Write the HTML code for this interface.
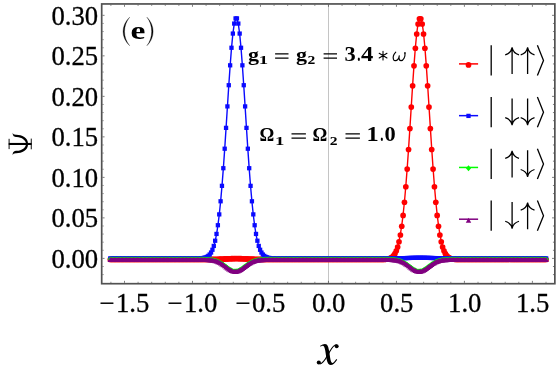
<!DOCTYPE html><html><head><meta charset="utf-8"><title>plot</title><style>html,body{margin:0;padding:0;background:#fff}svg{display:block}text{font-family:"Liberation Serif",serif;fill:#000}</style></head><body>
<svg width="556" height="377" viewBox="0 0 556 377">
<rect width="556" height="377" fill="#fff"/>
<defs>
<marker id="mr" markerWidth="8" markerHeight="8" refX="4" refY="4" markerUnits="userSpaceOnUse" overflow="visible"><circle cx="4" cy="4.75" r="2.85" fill="#ff0000"/></marker>
<marker id="mb" markerWidth="8" markerHeight="8" refX="4" refY="4" markerUnits="userSpaceOnUse" overflow="visible"><rect x="1.85" y="1.5" width="4.3" height="4.25" fill="#0a0aff"/></marker>
<marker id="mg" markerWidth="8" markerHeight="10" refX="4" refY="4" markerUnits="userSpaceOnUse" overflow="visible"><path d="M4 1.8L6.6 4.4L4 7.0L1.4 4.4Z" fill="#00ff00"/></marker>
<marker id="mp" markerWidth="8" markerHeight="10" refX="4" refY="4" markerUnits="userSpaceOnUse" overflow="visible"><path d="M4 2.3L6.75 7.2L1.25 7.2Z" fill="#800080"/></marker>
</defs>
<line x1="328.5" y1="3.95" x2="328.5" y2="283.7" stroke="#c4c4c4" stroke-width="1"/>
<polyline points="110.28,258.75 111.64,258.75 113.00,258.75 114.37,258.75 115.73,258.75 117.09,258.75 118.45,258.75 119.81,258.75 121.18,258.75 122.54,258.75 123.90,258.75 125.26,258.75 126.62,258.75 127.99,258.75 129.35,258.75 130.71,258.75 132.07,258.75 133.43,258.75 134.80,258.75 136.16,258.75 137.52,258.75 138.88,258.75 140.24,258.75 141.61,258.75 142.97,258.75 144.33,258.75 145.69,258.75 147.05,258.75 148.42,258.75 149.78,258.75 151.14,258.75 152.50,258.75 153.86,258.75 155.23,258.75 156.59,258.75 157.95,258.75 159.31,258.75 160.67,258.75 162.04,258.75 163.40,258.75 164.76,258.75 166.12,258.75 167.48,258.75 168.85,258.75 170.21,258.75 171.57,258.75 172.93,258.75 174.29,258.75 175.66,258.75 177.02,258.75 178.38,258.75 179.74,258.75 181.10,258.75 182.47,258.75 183.83,258.75 185.19,258.75 186.55,258.75 187.91,258.75 189.28,258.75 190.64,258.75 192.00,258.75 193.36,258.75 194.72,258.75 196.09,258.75 197.45,258.75 198.81,258.75 200.17,258.74 201.53,258.74 202.90,258.74 204.26,258.73 205.62,258.72 206.98,258.71 208.34,258.70 209.71,258.69 211.07,258.67 212.43,258.64 213.79,258.61 215.15,258.58 216.52,258.54 217.88,258.50 219.24,258.45 220.60,258.39 221.96,258.33 223.33,258.27 224.69,258.21 226.05,258.15 227.41,258.08 228.77,258.03 230.14,257.98 231.50,257.93 232.86,257.90 234.22,257.87 235.58,257.86 236.95,257.86 238.31,257.87 239.67,257.90 241.03,257.93 242.39,257.98 243.76,258.03 245.12,258.08 246.48,258.15 247.84,258.21 249.20,258.27 250.57,258.33 251.93,258.39 253.29,258.45 254.65,258.50 256.01,258.54 257.38,258.58 258.74,258.61 260.10,258.64 261.46,258.67 262.82,258.69 264.19,258.70 265.55,258.71 266.91,258.72 268.27,258.73 269.63,258.74 271.00,258.74 272.36,258.74 273.72,258.75 275.08,258.75 276.44,258.75 277.81,258.75 279.17,258.75 280.53,258.75 281.89,258.75 283.25,258.75 284.62,258.75 285.98,258.75 287.34,258.75 288.70,258.75 290.06,258.75 291.43,258.75 292.79,258.75 294.15,258.75 295.51,258.75 296.87,258.75 298.24,258.75 299.60,258.75 300.96,258.75 302.32,258.75 303.68,258.75 305.05,258.75 306.41,258.75 307.77,258.75 309.13,258.75 310.49,258.75 311.86,258.75 313.22,258.75 314.58,258.75 315.94,258.75 317.30,258.75 318.67,258.75 320.03,258.75 321.39,258.75 322.75,258.75 324.11,258.75 325.48,258.75 326.84,258.75 328.20,258.75 329.56,258.75 330.92,258.75 332.29,258.75 333.65,258.75 335.01,258.75 336.37,258.75 337.73,258.75 339.10,258.75 340.46,258.75 341.82,258.75 343.18,258.75 344.54,258.75 345.91,258.75 347.27,258.75 348.63,258.75 349.99,258.75 351.35,258.75 352.72,258.75 354.08,258.75 355.44,258.75 356.80,258.75 358.16,258.75 359.53,258.75 360.89,258.75 362.25,258.75 363.61,258.75 364.97,258.75 366.34,258.75 367.70,258.75 369.06,258.75 370.42,258.75 371.78,258.75 373.15,258.75 374.51,258.75 375.87,258.75 377.23,258.75 378.59,258.74 379.96,258.73 381.32,258.71 382.68,258.69 384.04,258.63 385.40,258.55 386.77,258.40 388.13,258.16 389.49,257.77 390.85,257.17 392.21,256.25 393.58,254.89 394.94,252.92 396.30,250.12 397.66,246.26 399.02,241.06 400.39,234.23 401.75,225.50 403.11,214.64 404.47,201.48 405.83,186.00 407.20,168.32 408.56,148.76 409.92,127.85 411.28,106.32 412.64,85.06 414.01,65.11 415.37,47.50 416.73,33.25 418.09,23.23 419.45,18.05 420.82,18.05 422.18,23.23 423.54,33.25 424.90,47.50 426.26,65.11 427.63,85.06 428.99,106.32 430.35,127.85 431.71,148.76 433.07,168.32 434.44,186.00 435.80,201.48 437.16,214.64 438.52,225.50 439.88,234.23 441.25,241.06 442.61,246.26 443.97,250.12 445.33,252.92 446.69,254.89 448.06,256.25 449.42,257.17 450.78,257.77 452.14,258.16 453.50,258.40 454.87,258.55 456.23,258.63 457.59,258.69 458.95,258.71 460.31,258.73 461.68,258.74 463.04,258.75 464.40,258.75 465.76,258.75 467.12,258.75 468.49,258.75 469.85,258.75 471.21,258.75 472.57,258.75 473.93,258.75 475.30,258.75 476.66,258.75 478.02,258.75 479.38,258.75 480.74,258.75 482.11,258.75 483.47,258.75 484.83,258.75 486.19,258.75 487.55,258.75 488.92,258.75 490.28,258.75 491.64,258.75 493.00,258.75 494.36,258.75 495.73,258.75 497.09,258.75 498.45,258.75 499.81,258.75 501.17,258.75 502.54,258.75 503.90,258.75 505.26,258.75 506.62,258.75 507.98,258.75 509.35,258.75 510.71,258.75 512.07,258.75 513.43,258.75 514.79,258.75 516.16,258.75 517.52,258.75 518.88,258.75 520.24,258.75 521.60,258.75 522.97,258.75 524.33,258.75 525.69,258.75 527.05,258.75 528.41,258.75 529.78,258.75 531.14,258.75 532.50,258.75 533.86,258.75 535.22,258.75 536.59,258.75 537.95,258.75 539.31,258.75 540.67,258.75 542.03,258.75 543.40,258.75 544.76,258.75 546.12,258.75" fill="none" stroke="#ff0000" stroke-width="1.4" stroke-linejoin="round" marker-start="url(#mr)" marker-mid="url(#mr)" marker-end="url(#mr)"/>
<polyline points="110.28,258.75 111.64,258.75 113.00,258.75 114.37,258.75 115.73,258.75 117.09,258.75 118.45,258.75 119.81,258.75 121.18,258.75 122.54,258.75 123.90,258.75 125.26,258.75 126.62,258.75 127.99,258.75 129.35,258.75 130.71,258.75 132.07,258.75 133.43,258.75 134.80,258.75 136.16,258.75 137.52,258.75 138.88,258.75 140.24,258.75 141.61,258.75 142.97,258.75 144.33,258.75 145.69,258.75 147.05,258.75 148.42,258.75 149.78,258.75 151.14,258.75 152.50,258.75 153.86,258.75 155.23,258.75 156.59,258.75 157.95,258.75 159.31,258.75 160.67,258.75 162.04,258.75 163.40,258.75 164.76,258.75 166.12,258.75 167.48,258.75 168.85,258.75 170.21,258.75 171.57,258.75 172.93,258.75 174.29,258.75 175.66,258.75 177.02,258.75 178.38,258.75 179.74,258.75 181.10,258.75 182.47,258.75 183.83,258.75 185.19,258.75 186.55,258.75 187.91,258.75 189.28,258.75 190.64,258.75 192.00,258.75 193.36,258.75 194.72,258.74 196.09,258.73 197.45,258.71 198.81,258.69 200.17,258.63 201.53,258.55 202.90,258.40 204.26,258.16 205.62,257.77 206.98,257.17 208.34,256.26 209.71,254.90 211.07,252.93 212.43,250.15 213.79,246.30 215.15,241.11 216.52,234.31 217.88,225.60 219.24,214.77 220.60,201.65 221.96,186.22 223.33,168.59 224.69,149.09 226.05,128.24 227.41,106.78 228.77,85.59 230.14,65.69 231.50,48.14 232.86,33.94 234.22,23.94 235.58,18.77 236.95,18.77 238.31,23.94 239.67,33.94 241.03,48.14 242.39,65.69 243.76,85.59 245.12,106.78 246.48,128.24 247.84,149.09 249.20,168.59 250.57,186.22 251.93,201.65 253.29,214.77 254.65,225.60 256.01,234.31 257.38,241.11 258.74,246.30 260.10,250.15 261.46,252.93 262.82,254.90 264.19,256.26 265.55,257.17 266.91,257.77 268.27,258.16 269.63,258.40 271.00,258.55 272.36,258.63 273.72,258.69 275.08,258.71 276.44,258.73 277.81,258.74 279.17,258.75 280.53,258.75 281.89,258.75 283.25,258.75 284.62,258.75 285.98,258.75 287.34,258.75 288.70,258.75 290.06,258.75 291.43,258.75 292.79,258.75 294.15,258.75 295.51,258.75 296.87,258.75 298.24,258.75 299.60,258.75 300.96,258.75 302.32,258.75 303.68,258.75 305.05,258.75 306.41,258.75 307.77,258.75 309.13,258.75 310.49,258.75 311.86,258.75 313.22,258.75 314.58,258.75 315.94,258.75 317.30,258.75 318.67,258.75 320.03,258.75 321.39,258.75 322.75,258.75 324.11,258.75 325.48,258.75 326.84,258.75 328.20,258.75 329.56,258.75 330.92,258.75 332.29,258.75 333.65,258.75 335.01,258.75 336.37,258.75 337.73,258.75 339.10,258.75 340.46,258.75 341.82,258.75 343.18,258.75 344.54,258.75 345.91,258.75 347.27,258.75 348.63,258.75 349.99,258.75 351.35,258.75 352.72,258.75 354.08,258.75 355.44,258.75 356.80,258.75 358.16,258.75 359.53,258.75 360.89,258.75 362.25,258.75 363.61,258.75 364.97,258.75 366.34,258.75 367.70,258.75 369.06,258.75 370.42,258.75 371.78,258.75 373.15,258.75 374.51,258.75 375.87,258.75 377.23,258.75 378.59,258.75 379.96,258.75 381.32,258.75 382.68,258.75 384.04,258.74 385.40,258.74 386.77,258.74 388.13,258.74 389.49,258.73 390.85,258.72 392.21,258.71 393.58,258.70 394.94,258.69 396.30,258.67 397.66,258.65 399.02,258.63 400.39,258.60 401.75,258.57 403.11,258.53 404.47,258.49 405.83,258.45 407.20,258.40 408.56,258.36 409.92,258.31 411.28,258.27 412.64,258.22 414.01,258.19 415.37,258.15 416.73,258.13 418.09,258.11 419.45,258.10 420.82,258.10 422.18,258.11 423.54,258.13 424.90,258.15 426.26,258.19 427.63,258.22 428.99,258.27 430.35,258.31 431.71,258.36 433.07,258.40 434.44,258.45 435.80,258.49 437.16,258.53 438.52,258.57 439.88,258.60 441.25,258.63 442.61,258.65 443.97,258.67 445.33,258.69 446.69,258.70 448.06,258.71 449.42,258.72 450.78,258.73 452.14,258.74 453.50,258.74 454.87,258.74 456.23,258.74 457.59,258.75 458.95,258.75 460.31,258.75 461.68,258.75 463.04,258.75 464.40,258.75 465.76,258.75 467.12,258.75 468.49,258.75 469.85,258.75 471.21,258.75 472.57,258.75 473.93,258.75 475.30,258.75 476.66,258.75 478.02,258.75 479.38,258.75 480.74,258.75 482.11,258.75 483.47,258.75 484.83,258.75 486.19,258.75 487.55,258.75 488.92,258.75 490.28,258.75 491.64,258.75 493.00,258.75 494.36,258.75 495.73,258.75 497.09,258.75 498.45,258.75 499.81,258.75 501.17,258.75 502.54,258.75 503.90,258.75 505.26,258.75 506.62,258.75 507.98,258.75 509.35,258.75 510.71,258.75 512.07,258.75 513.43,258.75 514.79,258.75 516.16,258.75 517.52,258.75 518.88,258.75 520.24,258.75 521.60,258.75 522.97,258.75 524.33,258.75 525.69,258.75 527.05,258.75 528.41,258.75 529.78,258.75 531.14,258.75 532.50,258.75 533.86,258.75 535.22,258.75 536.59,258.75 537.95,258.75 539.31,258.75 540.67,258.75 542.03,258.75 543.40,258.75 544.76,258.75 546.12,258.75" fill="none" stroke="#0a0aff" stroke-width="1.4" stroke-linejoin="round" marker-start="url(#mb)" marker-mid="url(#mb)" marker-end="url(#mb)"/>
<polyline points="110.28,258.75 111.64,258.75 113.00,258.75 114.37,258.75 115.73,258.75 117.09,258.75 118.45,258.75 119.81,258.75 121.18,258.75 122.54,258.75 123.90,258.75 125.26,258.75 126.62,258.75 127.99,258.75 129.35,258.75 130.71,258.75 132.07,258.75 133.43,258.75 134.80,258.75 136.16,258.75 137.52,258.75 138.88,258.75 140.24,258.75 141.61,258.75 142.97,258.75 144.33,258.75 145.69,258.75 147.05,258.75 148.42,258.75 149.78,258.75 151.14,258.75 152.50,258.75 153.86,258.75 155.23,258.75 156.59,258.75 157.95,258.75 159.31,258.75 160.67,258.75 162.04,258.75 163.40,258.75 164.76,258.75 166.12,258.75 167.48,258.75 168.85,258.75 170.21,258.75 171.57,258.75 172.93,258.75 174.29,258.75 175.66,258.75 177.02,258.75 178.38,258.75 179.74,258.75 181.10,258.75 182.47,258.75 183.83,258.75 185.19,258.75 186.55,258.75 187.91,258.75 189.28,258.75 190.64,258.75 192.00,258.75 193.36,258.75 194.72,258.75 196.09,258.75 197.45,258.75 198.81,258.76 200.17,258.76 201.53,258.77 202.90,258.78 204.26,258.81 205.62,258.84 206.98,258.89 208.34,258.96 209.71,259.06 211.07,259.20 212.43,259.40 213.79,259.65 215.15,259.99 216.52,260.42 217.88,260.95 219.24,261.59 220.60,262.34 221.96,263.19 223.33,264.13 224.69,265.14 226.05,266.18 227.41,267.21 228.77,268.20 230.14,269.08 231.50,269.81 232.86,270.35 234.22,270.66 235.58,270.74 236.95,270.56 238.31,270.16 239.67,269.53 241.03,268.74 242.39,267.81 243.76,266.80 245.12,265.76 246.48,264.73 247.84,263.74 249.20,262.83 250.57,262.02 251.93,261.32 253.29,260.72 254.65,260.24 256.01,259.85 257.38,259.54 258.74,259.31 260.10,259.14 261.46,259.01 262.82,258.93 264.19,258.86 265.55,258.82 266.91,258.80 268.27,258.78 269.63,258.77 271.00,258.76 272.36,258.76 273.72,258.75 275.08,258.75 276.44,258.75 277.81,258.75 279.17,258.75 280.53,258.75 281.89,258.75 283.25,258.75 284.62,258.75 285.98,258.75 287.34,258.75 288.70,258.75 290.06,258.75 291.43,258.75 292.79,258.75 294.15,258.75 295.51,258.75 296.87,258.75 298.24,258.75 299.60,258.75 300.96,258.75 302.32,258.75 303.68,258.75 305.05,258.75 306.41,258.75 307.77,258.75 309.13,258.75 310.49,258.75 311.86,258.75 313.22,258.75 314.58,258.75 315.94,258.75 317.30,258.75 318.67,258.75 320.03,258.75 321.39,258.75 322.75,258.75 324.11,258.75 325.48,258.75 326.84,258.75 328.20,258.75 329.56,258.75 330.92,258.75 332.29,258.75 333.65,258.75 335.01,258.75 336.37,258.75 337.73,258.75 339.10,258.75 340.46,258.75 341.82,258.75 343.18,258.75 344.54,258.75 345.91,258.75 347.27,258.75 348.63,258.75 349.99,258.75 351.35,258.75 352.72,258.75 354.08,258.75 355.44,258.75 356.80,258.75 358.16,258.75 359.53,258.75 360.89,258.75 362.25,258.75 363.61,258.75 364.97,258.75 366.34,258.75 367.70,258.75 369.06,258.75 370.42,258.75 371.78,258.75 373.15,258.75 374.51,258.75 375.87,258.75 377.23,258.75 378.59,258.75 379.96,258.75 381.32,258.75 382.68,258.76 384.04,258.76 385.40,258.77 386.77,258.78 388.13,258.81 389.49,258.84 390.85,258.89 392.21,258.96 393.58,259.06 394.94,259.20 396.30,259.40 397.66,259.65 399.02,259.99 400.39,260.42 401.75,260.95 403.11,261.59 404.47,262.34 405.83,263.19 407.20,264.13 408.56,265.14 409.92,266.18 411.28,267.21 412.64,268.20 414.01,269.08 415.37,269.81 416.73,270.35 418.09,270.66 419.45,270.74 420.82,270.56 422.18,270.16 423.54,269.53 424.90,268.74 426.26,267.81 427.63,266.80 428.99,265.76 430.35,264.73 431.71,263.74 433.07,262.83 434.44,262.02 435.80,261.32 437.16,260.72 438.52,260.24 439.88,259.85 441.25,259.54 442.61,259.31 443.97,259.14 445.33,259.01 446.69,258.93 448.06,258.86 449.42,258.82 450.78,258.80 452.14,258.78 453.50,258.77 454.87,258.76 456.23,258.76 457.59,258.75 458.95,258.75 460.31,258.75 461.68,258.75 463.04,258.75 464.40,258.75 465.76,258.75 467.12,258.75 468.49,258.75 469.85,258.75 471.21,258.75 472.57,258.75 473.93,258.75 475.30,258.75 476.66,258.75 478.02,258.75 479.38,258.75 480.74,258.75 482.11,258.75 483.47,258.75 484.83,258.75 486.19,258.75 487.55,258.75 488.92,258.75 490.28,258.75 491.64,258.75 493.00,258.75 494.36,258.75 495.73,258.75 497.09,258.75 498.45,258.75 499.81,258.75 501.17,258.75 502.54,258.75 503.90,258.75 505.26,258.75 506.62,258.75 507.98,258.75 509.35,258.75 510.71,258.75 512.07,258.75 513.43,258.75 514.79,258.75 516.16,258.75 517.52,258.75 518.88,258.75 520.24,258.75 521.60,258.75 522.97,258.75 524.33,258.75 525.69,258.75 527.05,258.75 528.41,258.75 529.78,258.75 531.14,258.75 532.50,258.75 533.86,258.75 535.22,258.75 536.59,258.75 537.95,258.75 539.31,258.75 540.67,258.75 542.03,258.75 543.40,258.75 544.76,258.75 546.12,258.75" fill="none" stroke="#00ff00" stroke-width="1.4" stroke-linejoin="round" marker-start="url(#mg)" marker-mid="url(#mg)" marker-end="url(#mg)"/>
<polyline points="110.28,258.75 111.64,258.75 113.00,258.75 114.37,258.75 115.73,258.75 117.09,258.75 118.45,258.75 119.81,258.75 121.18,258.75 122.54,258.75 123.90,258.75 125.26,258.75 126.62,258.75 127.99,258.75 129.35,258.75 130.71,258.75 132.07,258.75 133.43,258.75 134.80,258.75 136.16,258.75 137.52,258.75 138.88,258.75 140.24,258.75 141.61,258.75 142.97,258.75 144.33,258.75 145.69,258.75 147.05,258.75 148.42,258.75 149.78,258.75 151.14,258.75 152.50,258.75 153.86,258.75 155.23,258.75 156.59,258.75 157.95,258.75 159.31,258.75 160.67,258.75 162.04,258.75 163.40,258.75 164.76,258.75 166.12,258.75 167.48,258.75 168.85,258.75 170.21,258.75 171.57,258.75 172.93,258.75 174.29,258.75 175.66,258.75 177.02,258.75 178.38,258.75 179.74,258.75 181.10,258.75 182.47,258.75 183.83,258.75 185.19,258.75 186.55,258.75 187.91,258.75 189.28,258.75 190.64,258.75 192.00,258.75 193.36,258.75 194.72,258.75 196.09,258.75 197.45,258.75 198.81,258.76 200.17,258.76 201.53,258.77 202.90,258.78 204.26,258.81 205.62,258.84 206.98,258.89 208.34,258.96 209.71,259.06 211.07,259.20 212.43,259.40 213.79,259.65 215.15,259.99 216.52,260.42 217.88,260.95 219.24,261.59 220.60,262.34 221.96,263.19 223.33,264.13 224.69,265.14 226.05,266.18 227.41,267.21 228.77,268.20 230.14,269.08 231.50,269.81 232.86,270.35 234.22,270.66 235.58,270.74 236.95,270.56 238.31,270.16 239.67,269.53 241.03,268.74 242.39,267.81 243.76,266.80 245.12,265.76 246.48,264.73 247.84,263.74 249.20,262.83 250.57,262.02 251.93,261.32 253.29,260.72 254.65,260.24 256.01,259.85 257.38,259.54 258.74,259.31 260.10,259.14 261.46,259.01 262.82,258.93 264.19,258.86 265.55,258.82 266.91,258.80 268.27,258.78 269.63,258.77 271.00,258.76 272.36,258.76 273.72,258.75 275.08,258.75 276.44,258.75 277.81,258.75 279.17,258.75 280.53,258.75 281.89,258.75 283.25,258.75 284.62,258.75 285.98,258.75 287.34,258.75 288.70,258.75 290.06,258.75 291.43,258.75 292.79,258.75 294.15,258.75 295.51,258.75 296.87,258.75 298.24,258.75 299.60,258.75 300.96,258.75 302.32,258.75 303.68,258.75 305.05,258.75 306.41,258.75 307.77,258.75 309.13,258.75 310.49,258.75 311.86,258.75 313.22,258.75 314.58,258.75 315.94,258.75 317.30,258.75 318.67,258.75 320.03,258.75 321.39,258.75 322.75,258.75 324.11,258.75 325.48,258.75 326.84,258.75 328.20,258.75 329.56,258.75 330.92,258.75 332.29,258.75 333.65,258.75 335.01,258.75 336.37,258.75 337.73,258.75 339.10,258.75 340.46,258.75 341.82,258.75 343.18,258.75 344.54,258.75 345.91,258.75 347.27,258.75 348.63,258.75 349.99,258.75 351.35,258.75 352.72,258.75 354.08,258.75 355.44,258.75 356.80,258.75 358.16,258.75 359.53,258.75 360.89,258.75 362.25,258.75 363.61,258.75 364.97,258.75 366.34,258.75 367.70,258.75 369.06,258.75 370.42,258.75 371.78,258.75 373.15,258.75 374.51,258.75 375.87,258.75 377.23,258.75 378.59,258.75 379.96,258.75 381.32,258.75 382.68,258.76 384.04,258.76 385.40,258.77 386.77,258.78 388.13,258.81 389.49,258.84 390.85,258.89 392.21,258.96 393.58,259.06 394.94,259.20 396.30,259.40 397.66,259.65 399.02,259.99 400.39,260.42 401.75,260.95 403.11,261.59 404.47,262.34 405.83,263.19 407.20,264.13 408.56,265.14 409.92,266.18 411.28,267.21 412.64,268.20 414.01,269.08 415.37,269.81 416.73,270.35 418.09,270.66 419.45,270.74 420.82,270.56 422.18,270.16 423.54,269.53 424.90,268.74 426.26,267.81 427.63,266.80 428.99,265.76 430.35,264.73 431.71,263.74 433.07,262.83 434.44,262.02 435.80,261.32 437.16,260.72 438.52,260.24 439.88,259.85 441.25,259.54 442.61,259.31 443.97,259.14 445.33,259.01 446.69,258.93 448.06,258.86 449.42,258.82 450.78,258.80 452.14,258.78 453.50,258.77 454.87,258.76 456.23,258.76 457.59,258.75 458.95,258.75 460.31,258.75 461.68,258.75 463.04,258.75 464.40,258.75 465.76,258.75 467.12,258.75 468.49,258.75 469.85,258.75 471.21,258.75 472.57,258.75 473.93,258.75 475.30,258.75 476.66,258.75 478.02,258.75 479.38,258.75 480.74,258.75 482.11,258.75 483.47,258.75 484.83,258.75 486.19,258.75 487.55,258.75 488.92,258.75 490.28,258.75 491.64,258.75 493.00,258.75 494.36,258.75 495.73,258.75 497.09,258.75 498.45,258.75 499.81,258.75 501.17,258.75 502.54,258.75 503.90,258.75 505.26,258.75 506.62,258.75 507.98,258.75 509.35,258.75 510.71,258.75 512.07,258.75 513.43,258.75 514.79,258.75 516.16,258.75 517.52,258.75 518.88,258.75 520.24,258.75 521.60,258.75 522.97,258.75 524.33,258.75 525.69,258.75 527.05,258.75 528.41,258.75 529.78,258.75 531.14,258.75 532.50,258.75 533.86,258.75 535.22,258.75 536.59,258.75 537.95,258.75 539.31,258.75 540.67,258.75 542.03,258.75 543.40,258.75 544.76,258.75 546.12,258.75" fill="none" stroke="#800080" stroke-width="1.4" stroke-linejoin="round" marker-start="url(#mp)" marker-mid="url(#mp)" marker-end="url(#mp)"/>
<rect x="101.7" y="3.95" width="453.15000000000003" height="279.75" fill="none" stroke="#525252" stroke-width="1.7"/>
<path d="M110.90 282.84999999999997v-1.05M110.90 4.8v1.05M124.50 282.84999999999997v-2.0M124.50 4.8v2.0M138.09 282.84999999999997v-1.05M138.09 4.8v1.05M151.69 282.84999999999997v-1.05M151.69 4.8v1.05M165.29 282.84999999999997v-1.05M165.29 4.8v1.05M178.88 282.84999999999997v-1.05M178.88 4.8v1.05M192.48 282.84999999999997v-2.0M192.48 4.8v2.0M206.08 282.84999999999997v-1.05M206.08 4.8v1.05M219.67 282.84999999999997v-1.05M219.67 4.8v1.05M233.27 282.84999999999997v-1.05M233.27 4.8v1.05M246.87 282.84999999999997v-1.05M246.87 4.8v1.05M260.46 282.84999999999997v-2.0M260.46 4.8v2.0M274.06 282.84999999999997v-1.05M274.06 4.8v1.05M287.66 282.84999999999997v-1.05M287.66 4.8v1.05M301.26 282.84999999999997v-1.05M301.26 4.8v1.05M314.85 282.84999999999997v-1.05M314.85 4.8v1.05M328.45 282.84999999999997v-2.0M328.45 4.8v2.0M342.05 282.84999999999997v-1.05M342.05 4.8v1.05M355.64 282.84999999999997v-1.05M355.64 4.8v1.05M369.24 282.84999999999997v-1.05M369.24 4.8v1.05M382.84 282.84999999999997v-1.05M382.84 4.8v1.05M396.44 282.84999999999997v-2.0M396.44 4.8v2.0M410.03 282.84999999999997v-1.05M410.03 4.8v1.05M423.63 282.84999999999997v-1.05M423.63 4.8v1.05M437.23 282.84999999999997v-1.05M437.23 4.8v1.05M450.82 282.84999999999997v-1.05M450.82 4.8v1.05M464.42 282.84999999999997v-2.0M464.42 4.8v2.0M478.02 282.84999999999997v-1.05M478.02 4.8v1.05M491.61 282.84999999999997v-1.05M491.61 4.8v1.05M505.21 282.84999999999997v-1.05M505.21 4.8v1.05M518.81 282.84999999999997v-1.05M518.81 4.8v1.05M532.40 282.84999999999997v-2.0M532.40 4.8v2.0M546.00 282.84999999999997v-1.05M546.00 4.8v1.05M102.55 274.60h1.05M554.0 274.60h-1.05M102.55 266.50h1.05M554.0 266.50h-1.05M102.55 258.40h2.0M554.0 258.40h-2.0M102.55 250.30h1.05M554.0 250.30h-1.05M102.55 242.20h1.05M554.0 242.20h-1.05M102.55 234.09h1.05M554.0 234.09h-1.05M102.55 225.99h1.05M554.0 225.99h-1.05M102.55 217.89h2.0M554.0 217.89h-2.0M102.55 209.79h1.05M554.0 209.79h-1.05M102.55 201.69h1.05M554.0 201.69h-1.05M102.55 193.58h1.05M554.0 193.58h-1.05M102.55 185.48h1.05M554.0 185.48h-1.05M102.55 177.38h2.0M554.0 177.38h-2.0M102.55 169.28h1.05M554.0 169.28h-1.05M102.55 161.18h1.05M554.0 161.18h-1.05M102.55 153.07h1.05M554.0 153.07h-1.05M102.55 144.97h1.05M554.0 144.97h-1.05M102.55 136.87h2.0M554.0 136.87h-2.0M102.55 128.77h1.05M554.0 128.77h-1.05M102.55 120.67h1.05M554.0 120.67h-1.05M102.55 112.56h1.05M554.0 112.56h-1.05M102.55 104.46h1.05M554.0 104.46h-1.05M102.55 96.36h2.0M554.0 96.36h-2.0M102.55 88.26h1.05M554.0 88.26h-1.05M102.55 80.16h1.05M554.0 80.16h-1.05M102.55 72.05h1.05M554.0 72.05h-1.05M102.55 63.95h1.05M554.0 63.95h-1.05M102.55 55.85h2.0M554.0 55.85h-2.0M102.55 47.75h1.05M554.0 47.75h-1.05M102.55 39.65h1.05M554.0 39.65h-1.05M102.55 31.54h1.05M554.0 31.54h-1.05M102.55 23.44h1.05M554.0 23.44h-1.05M102.55 15.34h2.0M554.0 15.34h-2.0" stroke="#3a3a3a" stroke-width="0.65" fill="none"/>
<g style="filter:grayscale(1)">
<text x="98.2" y="267.90" font-size="26.7" text-anchor="end" stroke="#000" stroke-width="0.3">0.00</text>
<text x="98.2" y="227.39" font-size="26.7" text-anchor="end" stroke="#000" stroke-width="0.3">0.05</text>
<text x="98.2" y="186.88" font-size="26.7" text-anchor="end" stroke="#000" stroke-width="0.3">0.10</text>
<text x="98.2" y="146.37" font-size="26.7" text-anchor="end" stroke="#000" stroke-width="0.3">0.15</text>
<text x="98.2" y="105.86" font-size="26.7" text-anchor="end" stroke="#000" stroke-width="0.3">0.20</text>
<text x="98.2" y="65.35" font-size="26.7" text-anchor="end" stroke="#000" stroke-width="0.3">0.25</text>
<text x="98.2" y="24.84" font-size="26.7" text-anchor="end" stroke="#000" stroke-width="0.3">0.30</text>
<text x="124.30" y="312" font-size="26.7" text-anchor="middle" stroke="#000" stroke-width="0.3">−<tspan dx="1.6">1.5</tspan></text>
<text x="192.28" y="312" font-size="26.7" text-anchor="middle" stroke="#000" stroke-width="0.3">−<tspan dx="1.6">1.0</tspan></text>
<text x="260.26" y="312" font-size="26.7" text-anchor="middle" stroke="#000" stroke-width="0.3">−<tspan dx="1.6">0.5</tspan></text>
<text x="328.75" y="312" font-size="26.7" text-anchor="middle" stroke="#000" stroke-width="0.3">0.0</text>
<text x="396.74" y="312" font-size="26.7" text-anchor="middle" stroke="#000" stroke-width="0.3">0.5</text>
<text x="464.72" y="312" font-size="26.7" text-anchor="middle" stroke="#000" stroke-width="0.3">1.0</text>
<text x="532.70" y="312" font-size="26.7" text-anchor="middle" stroke="#000" stroke-width="0.3">1.5</text>
<path d="M320.15 345.81C321.76 344.79 323.46 343.94 324.99 343.94C327.70 343.94 328.55 347.34 329.23 351.58C329.91 356.25 330.34 360.24 331.27 362.11C331.78 363.30 332.88 363.13 334.24 361.68L336.36 359.05L337.21 359.73C334.92 363.30 332.80 364.99 330.76 364.99C327.70 364.99 326.77 360.92 326.09 356.25C325.50 352.01 325.07 348.61 324.14 346.74C323.38 345.47 322.02 345.72 320.57 346.66Z" fill="#000"/>
<path d="M336.62 344.79C333.65 344.11 331.35 348.87 328.81 353.11C326.43 357.10 323.88 363.13 319.81 363.98" fill="none" stroke="#000" stroke-width="1.15"/>
<circle cx="336.70" cy="346.23" r="1.95" fill="#000"/>
<circle cx="318.79" cy="362.53" r="2.05" fill="#000"/>
<path d="M12.65 132.75C12.99 133.94 13.67 134.70 15.87 134.70C21.39 134.53 28.09 137.16 28.09 143.95L26.05 143.95C25.88 140.38 21.98 137.33 16.72 137.08C14.35 136.99 12.57 136.14 12.65 132.75ZM12.65 155.14C12.99 153.95 13.67 153.19 15.87 153.19C21.39 153.36 28.09 150.73 28.09 143.95L26.05 143.95C25.88 147.51 21.98 150.56 16.72 150.82C14.35 150.90 12.57 151.75 12.65 155.14Z" fill="#000"/>
<path d="M8.7 143.95H31.6" stroke="#000" stroke-width="2.05" fill="none"/>
<path d="M9.1 138.8V149.1M31.25 138.6V149.3" stroke="#000" stroke-width="0.95" fill="none"/>
<g id="lab-e">
<path d="M129.7 17.2C120.9 25.5 120.9 37.5 129.7 45.7C122.8 37.7 122.8 25.2 129.7 17.2Z" fill="#000" stroke="#000" stroke-width="0.3"/>
<path d="M146.9 17.2C155.2 25.5 155.2 37.5 146.9 45.7C153.3 37.7 153.3 25.2 146.9 17.2Z" fill="#000" stroke="#000" stroke-width="0.3"/>
<text x="130.5" y="38.8" font-size="25.2" font-weight="bold" textLength="14.9" lengthAdjust="spacingAndGlyphs">e</text>
</g>
<text x="247.9" y="60.7" font-size="19.6" font-weight="bold" textLength="11.0" lengthAdjust="spacingAndGlyphs">g</text>
<text x="258.7" y="64.10000000000001" font-size="13.2" font-weight="bold" textLength="9.4" lengthAdjust="spacingAndGlyphs">1</text>
<path d="M275.1 53.800000000000004H288.5M275.1 58.1H288.5" stroke="#000" stroke-width="1.15" fill="none"/>
<text x="296.0" y="60.7" font-size="19.6" font-weight="bold" textLength="11.0" lengthAdjust="spacingAndGlyphs">g</text>
<text x="307.4" y="64.10000000000001" font-size="13.2" font-weight="bold" textLength="7.8" lengthAdjust="spacingAndGlyphs">2</text>
<path d="M323.6 53.800000000000004H337.0M323.6 58.1H337.0" stroke="#000" stroke-width="1.15" fill="none"/>
<text x="344.6" y="60.7" font-size="20.3" font-weight="bold" textLength="11.2" lengthAdjust="spacingAndGlyphs">3</text>
<text x="357.2" y="60.7" font-size="20.3" font-weight="bold" textLength="3.2" lengthAdjust="spacingAndGlyphs">.</text>
<text x="361.0" y="60.7" font-size="20.3" font-weight="bold" textLength="12.3" lengthAdjust="spacingAndGlyphs">4</text>
<path d="M383.01 51.19L383.01 59.97M379.19 53.28L386.96 57.96M379.19 57.96L386.96 53.28" stroke="#000" stroke-width="1.1" stroke-linecap="round" fill="none"/>
<path d="M395.74 52.13C393.94 54.07 392.72 57.31 393.51 59.47C394.16 61.12 396.46 61.12 397.90 59.32C398.62 58.39 399.12 57.31 399.27 55.73C398.69 58.39 399.19 60.69 401.14 60.69C403.37 60.69 405.38 56.95 405.02 52.78" stroke="#000" stroke-width="1.15" stroke-linecap="round" stroke-linejoin="round" fill="none"/>
<circle cx="404.88" cy="53.06" r="0.8" fill="#000"/>
<text x="259.4" y="140.8" font-size="19.6" font-weight="bold" textLength="14.8" lengthAdjust="spacingAndGlyphs">Ω</text>
<text x="274.9" y="144.70000000000002" font-size="13.2" font-weight="bold" textLength="9.4" lengthAdjust="spacingAndGlyphs">1</text>
<path d="M291.5 133.85H305.9M291.5 138.15H305.9" stroke="#000" stroke-width="1.15" fill="none"/>
<text x="312.6" y="140.8" font-size="19.6" font-weight="bold" textLength="14.8" lengthAdjust="spacingAndGlyphs">Ω</text>
<text x="329.7" y="144.5" font-size="13.2" font-weight="bold" textLength="7.8" lengthAdjust="spacingAndGlyphs">2</text>
<path d="M345.5 133.85H359.9M345.5 138.15H359.9" stroke="#000" stroke-width="1.15" fill="none"/>
<text x="366.6" y="140.8" font-size="20.3" font-weight="bold" textLength="12.2" lengthAdjust="spacingAndGlyphs">1</text>
<text x="380.3" y="140.8" font-size="20.3" font-weight="bold" textLength="3.2" lengthAdjust="spacingAndGlyphs">.</text>
<text x="384.6" y="140.8" font-size="20.3" font-weight="bold" textLength="11.2" lengthAdjust="spacingAndGlyphs">0</text>
</g>
<line x1="459.0" y1="63.9" x2="478.1" y2="63.9" stroke="#ff0000" stroke-width="1.5"/>
<circle cx="468.5" cy="64.95" r="2.85" fill="#ff0000"/>
<path d="M491.2 45.30V75.55M537.4 45.30L543.5 60.42L537.4 75.55M512.1 74.05V47.20M505.20000000000005 54.80C508.70000000000005 53.80 511.40000000000003 51.00 512.1 47.60C512.8000000000001 51.00 515.5 53.80 519.0 54.80M527.6 74.05V47.20M520.7 54.80C524.2 53.80 526.9 51.00 527.6 47.60C528.3000000000001 51.00 531.0 53.80 534.5 54.80" stroke="#000" stroke-width="1.3" fill="none" stroke-linejoin="miter"/>
<line x1="459.0" y1="115.65" x2="478.1" y2="115.65" stroke="#0a0aff" stroke-width="1.5"/>
<rect x="466.35" y="113.75" width="4.3" height="4.3" fill="#0a0aff"/>
<path d="M491.2 97.05V127.30M537.4 97.05L543.5 112.18L537.4 127.30M512.1 98.55V125.30M505.20000000000005 117.70C508.70000000000005 118.70 511.40000000000003 121.50 512.1 124.90C512.8000000000001 121.50 515.5 118.70 519.0 117.70M527.6 98.55V125.30M520.7 117.70C524.2 118.70 526.9 121.50 527.6 124.90C528.3000000000001 121.50 531.0 118.70 534.5 117.70" stroke="#000" stroke-width="1.3" fill="none" stroke-linejoin="miter"/>
<line x1="459.0" y1="167.45" x2="478.1" y2="167.45" stroke="#00ff00" stroke-width="1.5"/>
<path d="M468.5 165.15L471.1 168.15L468.5 171.15L465.9 168.15Z" fill="#00ff00"/>
<path d="M491.2 148.85V179.10M537.4 148.85L543.5 163.97L537.4 179.10M512.1 177.60V150.75M505.20000000000005 158.35C508.70000000000005 157.35 511.40000000000003 154.55 512.1 151.15C512.8000000000001 154.55 515.5 157.35 519.0 158.35M527.6 150.35V177.10M520.7 169.50C524.2 170.50 526.9 173.30 527.6 176.70C528.3000000000001 173.30 531.0 170.50 534.5 169.50" stroke="#000" stroke-width="1.3" fill="none" stroke-linejoin="miter"/>
<line x1="459.0" y1="219.2" x2="478.1" y2="219.2" stroke="#800080" stroke-width="1.5"/>
<path d="M468.5 217.8L471.2 222.8L465.8 222.8Z" fill="#800080"/>
<path d="M491.2 200.60V230.85M537.4 200.60L543.5 215.72L537.4 230.85M512.1 202.10V228.85M505.20000000000005 221.25C508.70000000000005 222.25 511.40000000000003 225.05 512.1 228.45C512.8000000000001 225.05 515.5 222.25 519.0 221.25M527.6 229.35V202.50M520.7 210.10C524.2 209.10 526.9 206.30 527.6 202.90C528.3000000000001 206.30 531.0 209.10 534.5 210.10" stroke="#000" stroke-width="1.3" fill="none" stroke-linejoin="miter"/>
</svg></body></html>
